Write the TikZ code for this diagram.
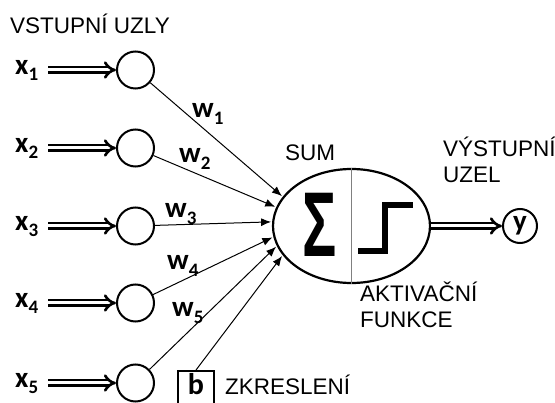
\documentclass[tikz,border=0pt]{standalone}
\usepackage{fontspec}
\setmainfont{Liberation Sans}
\newfontfamily\calfont{Carlito}
\usetikzlibrary{arrows.meta,shapes.geometric}
\newcommand{\sublab}[3][-6pt]{{\calfont\bfseries\fontsize{29}{29}\selectfont #2}\raisebox{#1}{\calfont\bfseries\fontsize{19}{19}\selectfont #3}}
\tikzset{
  txt/.style={inner sep=0pt,font=\fontsize{22.5}{26}\selectfont},
  lab/.style={inner sep=0pt,anchor=base west},
  inode/.style={circle,draw,line width=2pt,minimum size=37pt,inner sep=0pt},
  dbl/.style={double,double distance=3pt,line width=2.6pt,-{Implies}},
  conn/.style={line width=1pt,-{Latex[length=10pt,width=8pt]},shorten >=1pt}
}
\begin{document}
\begin{tikzpicture}[x=1pt,y=-1pt]
\useasboundingbox (0,0) rectangle (555,403);
\node[ellipse,draw,line width=2.2pt,minimum width=157pt,minimum height=114pt] (sum) at (351.5,226) {};
\draw[gray,line width=1pt] (sum.north) -- (sum.south);
\node[anchor=base,inner sep=0pt] (sig) at (320,257) {\bfseries\fontsize{92}{92}\selectfont\scalebox{0.62}[1]{Σ}};
\draw[line width=5.5pt] (358,251) -- (385,251) -- (385,205) -- (413,205);
\node[txt,anchor=base west] (sumlab) at (285,161) {SUM};
\node[txt,anchor=base west] (inlab) at (10,34) {VSTUPNÍ UZLY};
\foreach \yy/\wx/\wy/\ang [count=\i] in {70/192/118/157, 148/179/163/166, 226/165/218/177, 303/167/270/188, 383/172/317/195}
{
  \node[inode] (in\i) at (135.5,\yy) {};
  \node[lab] (x\i) at (15,\yy+5) {\sublab{x}{\i}};
  \draw[dbl,shorten <=10pt] (x\i.east |- in\i) -- (in\i);
  \draw[conn] (in\i) -- (sum.\ang);
  \node[lab] (w\i) at (\wx,\wy) {\sublab[-7pt]{w}{\i}};
}
\node[draw,line width=2pt,minimum width=36pt,minimum height=40pt,inner sep=0pt,anchor=north] (b) at (196,370) {};
\node[inner sep=0pt,anchor=base] (blab) at (196,395) {\calfont\bfseries\fontsize{30}{30}\selectfont b};
\draw[conn] (b.north) -- (sum.203);
\node[txt,anchor=base west] (zk) at (225,395) {ZKRESLENÍ};
\node[circle,draw,line width=2pt,minimum size=34pt,inner sep=0pt] (out) at (520,226) {\calfont\bfseries\fontsize{29}{29}\selectfont y};
\draw[dbl] (sum) -- (out);
\node[txt,align=left,anchor=south west] (outlab) at (443,183) {VÝSTUPNÍ\\UZEL};
\node[txt,align=left,anchor=south west] (aklab) at (360,328) {AKTIVAČNÍ\\FUNKCE};
\end{tikzpicture}
\end{document}
